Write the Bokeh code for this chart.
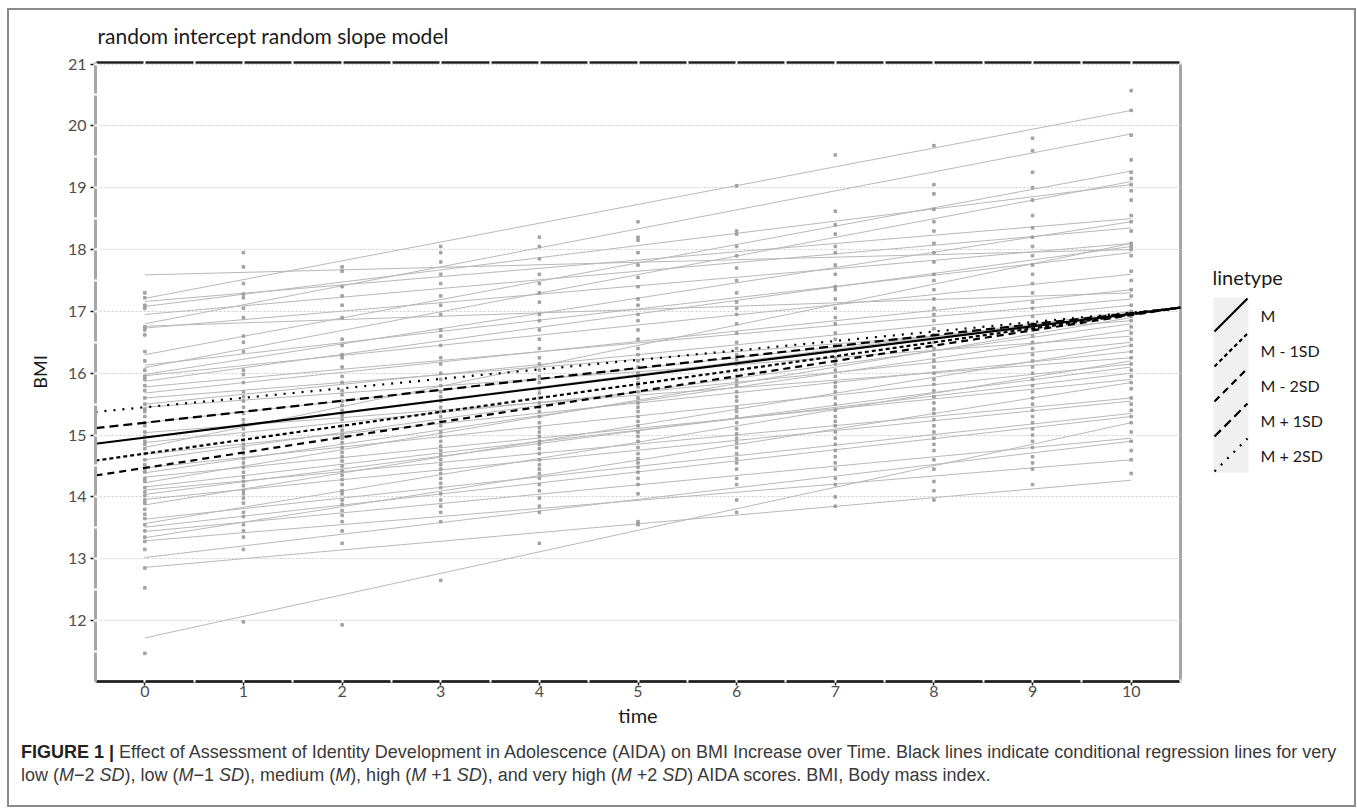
from bokeh.plotting import figure
from bokeh.models import Range1d, SingleIntervalTicker, FixedTicker, LinearAxis, Div
from bokeh.layouts import row, column
from bokeh.embed import file_html
from bokeh.resources import INLINE
from bokeh.core.properties import value

# ---------------- data ----------------
times = list(range(11))

# individual regression lines: fitted BMI at time 0 and at time 10
subj_start = [17.59, 17.21, 17.16, 17.08, 16.95, 16.80, 16.76, 16.73, 16.30, 16.13, 16.09,
              15.98, 15.96, 15.87, 15.78, 15.68, 15.60, 15.50, 15.45, 15.20, 15.04, 14.96,
              14.88, 14.80, 14.69, 14.60, 14.47, 14.39, 14.32, 14.23, 14.16, 14.11, 14.04,
              13.96, 13.87, 13.64, 13.57, 13.51, 13.44, 13.34, 13.29, 13.02, 12.86, 11.72]
subj_end = [18.00, 20.25, 18.50, 19.05, 18.35, 19.87, 17.30, 18.10, 19.27, 17.95, 19.10,
            18.45, 17.60, 18.05, 17.20, 17.35, 16.85, 17.10, 16.60, 16.95, 16.25, 17.00,
            16.50, 18.10, 16.35, 16.80, 16.15, 16.70, 15.90, 16.90, 16.00, 15.60, 16.10,
            15.55, 16.45, 15.35, 16.20, 15.30, 14.95, 15.85, 14.60, 14.90, 14.27, 15.20]

# observed BMI values at each measurement time
bmi_obs = {
    0: [17.30, 17.22, 17.10, 17.05, 16.75, 16.70, 16.62, 16.35, 16.20, 16.05, 15.95, 15.90, 15.80,
        15.72, 15.60, 15.50, 15.42, 15.38, 15.30, 15.20, 15.15, 15.05, 14.98, 14.90, 14.85, 14.78,
        14.70, 14.60, 14.52, 14.45, 14.40, 14.30, 14.25, 14.15, 14.08, 14.02, 13.95, 13.90, 13.80,
        13.72, 13.65, 13.55, 13.45, 13.35, 13.28, 13.15, 12.85, 12.53, 11.47],
    1: [17.95, 17.72, 17.45, 17.28, 17.22, 17.05, 16.90, 16.60, 16.50, 16.35, 16.05, 15.98, 15.85,
        15.70, 15.62, 15.55, 15.45, 15.35, 15.25, 15.18, 15.10, 15.00, 14.92, 14.85, 14.78, 14.70,
        14.62, 14.55, 14.48, 14.40, 14.32, 14.25, 14.18, 14.10, 14.05, 13.98, 13.90, 13.75, 13.68,
        13.55, 13.45, 13.35, 13.15, 11.98],
    2: [17.72, 17.65, 17.40, 17.25, 17.10, 16.90, 16.55, 16.45, 16.30, 16.25, 16.10, 15.95, 15.85,
        15.72, 15.65, 15.55, 15.48, 15.40, 15.32, 15.25, 15.15, 15.08, 15.00, 14.95, 14.88, 14.80,
        14.72, 14.65, 14.58, 14.50, 14.42, 14.35, 14.28, 14.20, 14.10, 14.05, 13.95, 13.88, 13.78,
        13.70, 13.60, 13.45, 13.25, 11.93],
    3: [18.05, 17.95, 17.80, 17.60, 17.45, 17.25, 17.10, 16.95, 16.70, 16.60, 16.45, 16.25, 16.15,
        16.00, 15.90, 15.80, 15.70, 15.62, 15.55, 15.45, 15.38, 15.30, 15.22, 15.15, 15.05, 14.98,
        14.90, 14.82, 14.75, 14.68, 14.60, 14.52, 14.45, 14.38, 14.30, 14.22, 14.15, 14.05, 13.95,
        13.85, 13.75, 13.60, 12.65],
    4: [18.20, 18.05, 17.85, 17.60, 17.45, 17.30, 17.15, 16.95, 16.85, 16.70, 16.55, 16.40, 16.25,
        16.15, 16.05, 15.95, 15.85, 15.75, 15.68, 15.60, 15.52, 15.45, 15.38, 15.30, 15.20, 15.12,
        15.05, 14.98, 14.90, 14.85, 14.78, 14.70, 14.60, 14.52, 14.45, 14.38, 14.30, 14.20, 14.10,
        13.98, 13.85, 13.75, 13.25],
    5: [18.45, 18.20, 18.15, 17.95, 17.75, 17.55, 17.40, 17.20, 17.10, 16.95, 16.85, 16.70, 16.55,
        16.40, 16.30, 16.20, 16.10, 16.00, 15.92, 15.85, 15.78, 15.70, 15.60, 15.52, 15.45, 15.38,
        15.30, 15.22, 15.15, 15.05, 14.98, 14.90, 14.80, 14.70, 14.62, 14.55, 14.48, 14.40, 14.30,
        14.20, 14.05, 13.60, 13.55],
    6: [19.03, 18.30, 18.25, 18.05, 17.90, 17.70, 17.50, 17.30, 17.15, 17.05, 16.95, 16.80, 16.65,
        16.50, 16.40, 16.30, 16.22, 16.15, 16.05, 15.95, 15.88, 15.80, 15.70, 15.62, 15.55, 15.45,
        15.38, 15.30, 15.20, 15.10, 15.02, 14.95, 14.88, 14.80, 14.70, 14.62, 14.55, 14.45, 14.30,
        14.20, 13.95, 13.75],
    7: [19.53, 18.62, 18.40, 18.25, 18.05, 17.95, 17.75, 17.60, 17.40, 17.35, 17.20, 17.05, 16.90,
        16.80, 16.65, 16.55, 16.45, 16.35, 16.25, 16.15, 16.05, 15.95, 15.85, 15.78, 15.70, 15.60,
        15.50, 15.40, 15.30, 15.22, 15.15, 15.05, 14.95, 14.85, 14.75, 14.65, 14.55, 14.45, 14.30,
        14.20, 14.00, 13.85],
    8: [19.68, 19.05, 18.90, 18.65, 18.45, 18.30, 18.10, 17.95, 17.80, 17.60, 17.50, 17.35, 17.20,
        17.05, 16.95, 16.85, 16.72, 16.62, 16.50, 16.40, 16.30, 16.20, 16.10, 16.00, 15.90, 15.82,
        15.72, 15.62, 15.52, 15.42, 15.35, 15.25, 15.15, 15.05, 14.95, 14.85, 14.75, 14.60, 14.45,
        14.25, 14.10, 13.95],
    9: [19.80, 19.60, 19.25, 19.00, 18.80, 18.55, 18.35, 18.20, 18.05, 17.90, 17.75, 17.60, 17.45,
        17.30, 17.15, 17.05, 16.92, 16.80, 16.70, 16.60, 16.50, 16.40, 16.30, 16.20, 16.10, 16.00,
        15.90, 15.80, 15.70, 15.60, 15.50, 15.40, 15.30, 15.20, 15.10, 15.00, 14.90, 14.80, 14.65,
        14.55, 14.45, 14.20],
    10: [20.57, 20.25, 19.85, 19.45, 19.25, 19.15, 19.05, 18.95, 18.80, 18.55, 18.45, 18.30, 18.10,
         18.05, 18.00, 17.90, 17.65, 17.50, 17.35, 17.25, 17.10, 17.00, 16.92, 16.85, 16.75, 16.65,
         16.55, 16.45, 16.35, 16.25, 16.15, 16.05, 15.95, 15.85, 15.75, 15.60, 15.50, 15.40, 15.30,
         15.20, 15.05, 14.90, 14.75, 14.60, 14.38],
}

# conditional regression lines (AIDA level): intercept at time 0 and slope
cond_labels = ["M", "M - 1SD", "M - 2SD", "M + 1SD", "M + 2SD"]
cond_intercept = [14.96, 14.70, 14.47, 15.20, 15.45]
cond_slope = [0.200, 0.225, 0.247, 0.177, 0.153]

# ---------------- styles ----------------
dash_of = {"M": "solid", "M - 1SD": "4 3", "M - 2SD": "7 5", "M + 1SD": "9 5", "M + 2SD": "2 7"}
FONT = "Lato"
X_LO, X_HI = -0.5, 10.5
Y_LO, Y_HI = 11.015, 21.025

MAIN_W, H = 1174, 725
LEG_W = 171
CAP_H = 70
BORDER_TOP, BORDER_BOTTOM = 52, 54
PAGE_Y0 = 10  # page y of the figures' top edge

p = figure(width=MAIN_W, height=H, x_range=Range1d(X_LO, X_HI), y_range=Range1d(Y_LO, Y_HI),
           output_backend="svg", toolbar_location=None,
           min_border_left=86, min_border_right=3,
           min_border_top=BORDER_TOP, min_border_bottom=BORDER_BOTTOM)
p.background_fill_color = "white"
p.border_fill_color = "white"
p.outline_line_color = "#a6a6a6"
p.outline_line_width = 3

tick_x = SingleIntervalTicker(interval=1, num_minor_ticks=2)
tick_y = SingleIntervalTicker(interval=1, num_minor_ticks=2)
p.xaxis.ticker = tick_x
p.yaxis.ticker = tick_y

p.xgrid.visible = False
p.ygrid.ticker = tick_y
p.ygrid.grid_line_color = "#cccccc"
p.ygrid.grid_line_dash = "2 2"
p.ygrid.grid_line_width = 1

# bottom axis
xa = p.xaxis[0]
xa.axis_line_color = "#1a1a1a"
xa.axis_line_width = 2.5
xa.major_tick_line_color = "#1a1a1a"
xa.major_tick_line_width = 1.5
xa.major_tick_out = 4
xa.major_tick_in = 0
xa.minor_tick_line_color = "white"
xa.minor_tick_in = 2
xa.minor_tick_out = 1
xa.minor_tick_line_width = 2
xa.major_label_standoff = 0
xa.major_label_text_font = FONT
xa.major_label_text_font_size = "16px"
xa.major_label_text_color = "#4d4d4d"
xa.axis_label = "time"
xa.axis_label_text_font = FONT
xa.axis_label_text_font_size = "20px"
xa.axis_label_text_font_style = "normal"
xa.axis_label_text_color = "#1a1a1a"
xa.axis_label_standoff = 3

# left axis
ya = p.yaxis[0]
ya.axis_line_color = "#a6a6a6"
ya.axis_line_width = 3
ya.major_tick_line_color = "#1a1a1a"
ya.major_tick_line_width = 1.5
ya.major_tick_out = 5
ya.major_tick_in = 0
ya.minor_tick_line_color = "white"
ya.minor_tick_in = 2
ya.minor_tick_out = 2
ya.minor_tick_line_width = 2
ya.major_label_standoff = 4
ya.major_label_text_font = FONT
ya.major_label_text_font_size = "16px"
ya.major_label_text_color = "#4d4d4d"
ya.axis_label = "BMI"
ya.axis_label_text_font = FONT
ya.axis_label_text_font_size = "18px"
ya.axis_label_text_font_style = "normal"
ya.axis_label_text_color = "#1a1a1a"
ya.axis_label_standoff = 14

# top border line with light notches at every half unit (no labels)
half_steps = [X_LO + 0.5 * k for k in range(int((X_HI - X_LO) * 2) + 1)]
top = LinearAxis(ticker=FixedTicker(ticks=[], minor_ticks=half_steps),
                 major_label_standoff=0,
                 axis_line_color="#1a1a1a", axis_line_width=2,
                 major_tick_line_color=None, major_tick_in=0, major_tick_out=0,
                 minor_tick_line_color="white", minor_tick_in=2, minor_tick_out=2, minor_tick_line_width=2)
p.add_layout(top, "above")

p.title.text = "random intercept random slope model"
p.title.text_font = FONT
p.title.text_font_size = "21px"
p.title.text_font_style = "normal"
p.title.text_color = "#1a1a1a"
p.title.align = "left"
p.title.vertical_align = "top"
p.title.offset = 2
p.title.standoff = 22

# individual lines
p.segment(x0=[times[0]] * len(subj_start), y0=subj_start,
          x1=[times[-1]] * len(subj_end), y1=subj_end,
          line_color="#b8b8b8", line_width=1)

# observed points
px, py = [], []
for t in times:
    px += [t] * len(bmi_obs[t])
    py += bmi_obs[t]
p.scatter(x=px, y=py, marker="square", size=2.6, fill_color="#999999", line_color="#999999",
          fill_alpha=0.85, line_alpha=0.85)

# conditional regression lines across the whole panel
for i in [4, 3, 2, 1, 0]:
    lab = cond_labels[i]
    xs = [X_LO, X_HI]
    ys = [cond_intercept[i] + cond_slope[i] * x for x in xs]
    p.line(xs, ys, line_color="black", line_width=2.2, line_dash=dash_of[lab])

# ---------------- legend panel (page-pixel coordinates) ----------------
frame_top_page = PAGE_Y0 + BORDER_TOP
frame_bottom_page = PAGE_Y0 + H - BORDER_BOTTOM
lf = figure(width=LEG_W, height=H, x_range=Range1d(0, LEG_W),
            y_range=Range1d(frame_bottom_page, frame_top_page),
            output_backend="svg", toolbar_location=None,
            min_border_left=0, min_border_right=0,
            min_border_top=BORDER_TOP, min_border_bottom=BORDER_BOTTOM,
            x_axis_type=None, y_axis_type=None)
lf.grid.visible = False
lf.outline_line_color = None
lf.background_fill_color = "white"
lf.border_fill_color = "white"

KEY_L, KEY_W, KEY_TOP, KEY_H = 30, 35, 297, 35
n = len(cond_labels)
lf.quad(left=[KEY_L], right=[KEY_L + KEY_W], top=[KEY_TOP], bottom=[KEY_TOP + n * KEY_H],
        fill_color="#f0f0f0", line_color=None)
for i, lab in enumerate(cond_labels):
    t0 = KEY_TOP + i * KEY_H
    lf.segment(x0=[KEY_L + 1], y0=[t0 + KEY_H - 1], x1=[KEY_L + KEY_W - 1], y1=[t0 + 1],
               line_color="black", line_width=2.2, line_dash=dash_of[lab])
lf.text(x=[KEY_L + KEY_W + 12] * n, y=[KEY_TOP + KEY_H * (i + 0.5) for i in range(n)],
        text=cond_labels, text_font=value(FONT), text_font_size="16px",
        text_baseline="middle", text_align="left", text_color="#1a1a1a")
lf.text(x=[KEY_L - 1], y=[KEY_TOP - 21], text=["linetype"], text_font=value(FONT),
        text_font_size="20px", text_baseline="middle", text_align="left", text_color="#1a1a1a")

# ---------------- caption ----------------
cap_html = (
    '<div style="font-family:\'Liberation Sans\',Arial,sans-serif;font-size:18px;line-height:23px;'
    'color:#3a3a3a;white-space:nowrap;padding-top:6px;">'
    '<b style="color:#222">FIGURE 1 |</b> Effect of Assessment of Identity Development in Adolescence (AIDA) '
    'on BMI Increase over Time. Black lines indicate conditional regression lines for very<br>'
    'low (<i>M</i>\u22122 <i>SD</i>), low (<i>M</i>\u22121 <i>SD</i>), medium (<i>M</i>), '
    'high (<i>M</i> +1 <i>SD</i>), and very high (<i>M</i> +2 <i>SD</i>) AIDA scores. '
    'BMI, Body mass index.</div>'
)
cap = Div(text=cap_html, width=MAIN_W + LEG_W - 14, height=CAP_H, margin=(0, 2, 2, 14))

layout = column(row(p, lf, margin=(2, 2, 0, 2)), cap,
                margin=(8, 0, 0, 7),
                styles={"outline": "2px solid #8a8a8a", "outline-offset": "-2px", "background": "white"})

open("out.html", "w").write(file_html(layout, INLINE))
